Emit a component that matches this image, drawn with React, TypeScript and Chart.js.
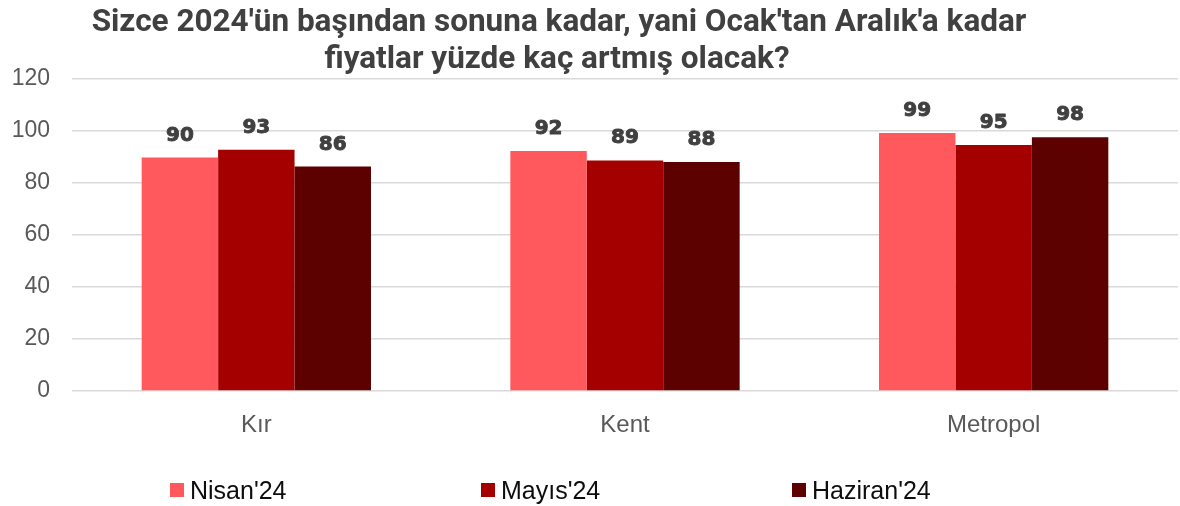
import React, { useEffect, useRef } from "react";
import { Chart, registerables } from "chart.js";

Chart.register(...registerables);

const categories = ["Kır", "Kent", "Metropol"];
const seriesNames = ["Nisan'24", "Mayıs'24", "Haziran'24"];
const nisanValues = [89.8, 92.3, 99.2];
const mayisValues = [92.8, 88.7, 94.6];
const haziranValues = [86.3, 88.1, 97.6];
const seriesColors = ["#FF585D", "#A50000", "#5C0000"];
const yTicks = [0, 20, 40, 60, 80, 100, 120];
const titleLines = [
  "Sizce 2024'ün başından sonuna kadar, yani Ocak'tan Aralık'a kadar",
  "fiyatlar yüzde kaç artmış olacak?",
];

const titlePlugin = {
  id: "customTitle",
  afterDraw(chart: any) {
    const ctx = chart.ctx;
    ctx.save();
    ctx.fillStyle = "#404040";
    ctx.font = "bold 31.5px 'Roboto', sans-serif";
    ctx.textAlign = "center";
    ctx.textBaseline = "alphabetic";
    ctx.fillText(titleLines[0], 559, 31);
    ctx.fillText(titleLines[1], 557, 68);
    ctx.restore();
  },
};

const dataLabelPlugin = {
  id: "dataLabels",
  afterDatasetsDraw(chart: any) {
    const ctx = chart.ctx;
    ctx.save();
    ctx.fillStyle = "#404040";
    ctx.strokeStyle = "#404040";
    ctx.lineWidth = 0.9;
    ctx.lineJoin = "round";
    ctx.font = "bold 20px 'DejaVu Sans', sans-serif";
    ctx.textAlign = "center";
    ctx.textBaseline = "alphabetic";
    chart.data.datasets.forEach((ds: any, di: number) => {
      const meta = chart.getDatasetMeta(di);
      meta.data.forEach((bar: any, i: number) => {
        const txt = String(Math.round(ds.data[i]));
        ctx.fillText(txt, bar.x, bar.y - 17);
        ctx.strokeText(txt, bar.x, bar.y - 17);
      });
    });
    ctx.restore();
  },
};

const legendPlugin = {
  id: "customLegend",
  afterDraw(chart: any) {
    const ctx = chart.ctx;
    const starts = [170, 481, 792];
    ctx.save();
    ctx.font = "25px 'Liberation Sans', Arial, sans-serif";
    ctx.textAlign = "left";
    ctx.textBaseline = "alphabetic";
    chart.data.datasets.forEach((ds: any, i: number) => {
      const x = starts[i];
      ctx.fillStyle = ds.backgroundColor;
      ctx.fillRect(x, 483, 14, 14);
      ctx.fillStyle = "#0d0d0d";
      ctx.fillText(ds.label, x + 20, 499);
    });
    ctx.restore();
  },
};

export default function App() {
  const canvasRef = useRef<HTMLCanvasElement | null>(null);

  useEffect(() => {
    if (!canvasRef.current) return;
    const valueSets = [nisanValues, mayisValues, haziranValues];
    const chart = new Chart(canvasRef.current, {
      type: "bar",
      data: {
        labels: categories,
        datasets: seriesNames.map((name, i) => ({
          label: name,
          data: valueSets[i],
          backgroundColor: seriesColors[i],
          borderWidth: 0,
          categoryPercentage: 0.622,
          barPercentage: 1.0,
        })),
      },
      options: {
        animation: false,
        responsive: false,
        maintainAspectRatio: false,
        layout: { padding: { top: 79, left: 10, right: 2, bottom: 0 } },
        plugins: {
          legend: { display: false },
          title: { display: false },
          tooltip: { enabled: false },
        },
        scales: {
          x: {
            grid: { display: false, drawTicks: false },
            border: { display: false },
            afterFit: (axis: any) => {
              axis.height = 115;
            },
            ticks: {
              color: "#595959",
              padding: 19.5,
              font: { family: "'Liberation Sans', Arial, sans-serif", size: 24 },
            },
          },
          y: {
            min: 0,
            max: 120,
            afterBuildTicks: (axis: any) => {
              axis.ticks = yTicks.map((v) => ({ value: v }));
            },
            afterFit: (axis: any) => {
              axis.width = 62;
            },
            grid: { color: "#d9d9d9", lineWidth: 1.5, drawTicks: false },
            border: { display: false },
            ticks: {
              color: "#595959",
              padding: 22,
              font: { family: "'Liberation Sans', Arial, sans-serif", size: 23 },
            },
          },
        },
      },
      plugins: [titlePlugin, dataLabelPlugin, legendPlugin],
    });
    return () => chart.destroy();
  }, []);

  return (
    <div style={{ position: "absolute", left: 0, top: 0, width: 1180, height: 506, background: "#fff" }}>
      <canvas ref={canvasRef} width={1180} height={506} style={{ width: 1180, height: 506, display: "block" }} />
    </div>
  );
}
